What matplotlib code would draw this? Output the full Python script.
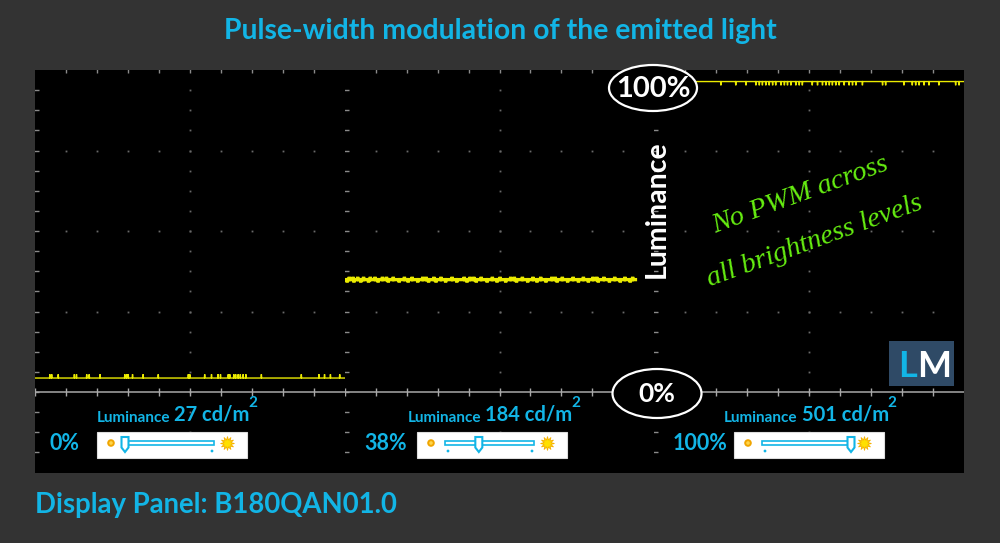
import matplotlib
matplotlib.use("Agg")
import matplotlib.pyplot as plt
from matplotlib.patches import Ellipse, Rectangle, Polygon, Circle

# ---------------- data ----------------
title = "Pulse-width modulation of the emitted light"
panel_label = "Display Panel: B180QAN01.0"
brightness_pct = [0, 38, 100]            # brightness slider setting
luminance_cd = [27, 184, 501]            # measured luminance (cd/m2)
trace_level_pct = [4.5, 36.2, 100.0]     # trace level, % of max luminance
trace_end_div = [10.0, 9.39, 10.0]       # where each trace ends (time divisions)

# small glitches on the traces (time divisions)
spikes_1_up = [0.48, 0.54, 0.75, 1.27, 1.34, 1.67, 1.75, 2.1, 2.9, 2.96, 3.01,
               3.15, 3.49, 3.98, 4.95, 5.0, 5.48, 5.7, 5.91, 5.99, 6.24, 6.29,
               6.42, 6.48, 6.56, 6.63, 6.72, 6.81, 7.31, 8.6, 9.17, 9.35, 9.54, 9.84]
spikes_2_up = [0.15, 0.27, 0.42, 0.61, 0.83, 0.98, 1.22, 1.35, 1.57, 1.93, 2.18,
               2.52, 2.63, 2.88, 3.11, 3.47, 3.86, 4.05, 4.17, 4.41, 4.77, 5.02,
               5.36, 5.48, 5.74, 6.08, 6.33, 6.69, 6.8, 7.03, 7.38, 7.71, 8.02,
               8.14, 8.37, 8.72, 9.05, 9.3]
spikes_2_down = [0.08, 0.3, 0.52, 0.77, 1.08, 1.41, 1.76, 2.05, 2.36, 2.71, 2.95,
                 3.26, 3.62, 3.95, 4.25, 4.6, 4.92, 5.2, 5.55, 5.91, 6.21, 6.5,
                 6.86, 7.2, 7.55, 7.87, 8.19, 8.55, 8.9, 9.22]
spikes_3_down = [2.15, 2.63, 2.96, 3.28, 3.39, 3.49, 3.6, 3.71, 3.82, 3.92, 4.09,
                 4.2, 4.3, 4.41, 4.57, 4.68, 4.78, 5.1, 5.27, 5.43, 5.54, 5.65,
                 5.75, 5.86, 5.97, 6.13, 6.29, 6.4, 6.51, 6.72, 7.37, 7.47, 8.06,
                 8.33, 8.44, 8.55, 8.71, 8.87, 9.19, 9.73, 9.84]

# ---------------- style ----------------
W, H = 1000, 543
BG = "#333333"
CYAN = "#12b5e6"
YELLOW = "#eaea00"
GRIDC = "#8a8a8a"
DOTC = "#6a6a6a"
GREEN = "#66ee11"
SANS = ["Lato", "DejaVu Sans"]

DIV = 25.93          # % per vertical division
YMIN, YMAX = -DIV, 4 * DIV
fig = plt.figure(figsize=(W / 100, H / 100), dpi=100)
fig.patch.set_facecolor(BG)

PX0, PX1, PTOP, PBOT = 35, 964, 70, 472.5
SW = (PX1 - PX0) / 3


def build_trace(level, end, ups, downs, h):
    ev = sorted([(p, h) for p in ups] + [(p, -h) for p in downs])
    xs, ys = [0.0], [level]
    for p, s in ev:
        xs += [p - 0.012, p, p + 0.012]
        ys += [level, level + s, level]
    xs.append(end)
    ys.append(level)
    return xs, ys


spike_sets = [(spikes_1_up, [], 1.2), (spikes_2_up, spikes_2_down, 0.9),
              ([], spikes_3_down, 1.2)]
line_w = [1.0, 2.4, 1.0]

minor = DIV / 4
minor_levels = [m * minor for m in range(-3, 16)]
for i in range(3):
    ax = fig.add_axes([(PX0 + i * SW) / W, 1 - PBOT / H, SW / W, (PBOT - PTOP) / H])
    ax.set_facecolor("black")
    ax.set_xlim(0, 10)
    ax.set_ylim(YMIN, YMAX)
    ax.set_xticks([])
    ax.set_yticks([])
    for s in ax.spines.values():
        s.set_visible(False)
    # dotted grid
    for k in (1, 2, 3):
        ax.plot(range(1, 10), [k * DIV] * 9, ls="none", marker="s", ms=1.3,
                color=DOTC, mew=0)
    ax.plot([5] * len(minor_levels), minor_levels, ls="none", marker="s", ms=1.3,
            color=DOTC, mew=0)
    # left edge ticks
    ax.plot([0] * len(minor_levels), minor_levels, ls="none", marker="_", ms=6,
            color=GRIDC, mew=1)
    # top edge ticks
    ax.plot(range(1, 10), [YMAX] * 9, ls="none", marker="|", ms=5, color=GRIDC, mew=1)
    # zero axis
    ax.axhline(0, color="#a8a8a8", lw=1.1)
    ax.plot(range(0, 10), [0] * 10, ls="none", marker="|", ms=6, color="#a8a8a8", mew=1)
    # trace
    ups, downs, h = spike_sets[i]
    xs, ys = build_trace(trace_level_pct[i], trace_end_div[i], ups, downs, h)
    ax.plot(xs, ys, color=YELLOW, lw=line_w[i], solid_joinstyle="miter")

# ---------------- overlay (annotations) ----------------
ov = fig.add_axes([0, 0, 1, 1])
ov.set_xlim(0, W)
ov.set_ylim(H, 0)
ov.axis("off")
ov.patch.set_alpha(0)

ov.text(500, 31, title, color=CYAN, fontsize=20.4, fontweight="bold",
        ha="center", va="center", family=SANS)
ov.text(35, 505, panel_label, color=CYAN, fontsize=19.8, fontweight="bold",
        ha="left", va="center", family=SANS)

# percentage ellipses
ov.add_patch(Ellipse((653, 88), 88, 46, fc="black", ec="white", lw=1.6, zorder=5))
ov.text(653, 89, "100%", color="white", fontsize=21, fontweight="bold",
        ha="center", va="center", family=SANS, zorder=6)
ov.add_patch(Ellipse((657, 393.5), 89, 49, fc="black", ec="white", lw=1.6, zorder=5))
ov.text(657, 394, "0%", color="white", fontsize=19, fontweight="bold",
        ha="center", va="center", family=SANS, zorder=6)

ov.text(657, 209, "Luminance", color="white", fontsize=20.5, fontweight="bold",
        rotation=90, ha="center", va="center", family=SANS)

# LM logo
ov.add_patch(Rectangle((889, 341), 65, 45, fc="#2f4a66", ec="none"))
ov.text(898, 377, "L", color="#12b5e6", fontsize=26, fontweight="bold",
        ha="left", va="baseline", family=SANS)
ov.text(917, 377, "M", color="white", fontsize=26, fontweight="bold",
        ha="left", va="baseline", family=SANS)

# green note
ov.text(803, 201, "No PWM across", color=GREEN, fontsize=20.5, style="italic",
        family=["Liberation Serif", "DejaVu Serif"], rotation=20,
        rotation_mode="anchor", ha="center", va="baseline")
ov.text(817, 247, "all brightness levels", color=GREEN, fontsize=20.5, style="italic",
        family=["Liberation Serif", "DejaVu Serif"], rotation=20,
        rotation_mode="anchor", ha="center", va="baseline")

# brightness sliders and luminance labels
box_x = [97, 417, 734]
lab_x = [96.7, 407.7, 724]
pct_right = [80, 407, 727]
for i in range(3):
    x0 = box_x[i]
    ov.add_patch(Rectangle((x0, 432), 150, 26, fc="white", ec="#dddddd", lw=0.8))
    ov.add_patch(Circle((x0 + 14, 443), 2.8, fc="#ffd54a", ec="#f0a500", lw=1.4))
    t0, t1 = x0 + 28, x0 + 117
    ov.add_patch(Rectangle((t0, 441.3), t1 - t0, 3.4, fc="white", ec=CYAN, lw=1.2))
    hx = t0 + (t1 - t0) * brightness_pct[i] / 100
    ov.add_patch(Polygon([(hx - 3.5, 437), (hx + 3.5, 437), (hx + 3.5, 447.5),
                          (hx, 452), (hx - 3.5, 447.5)], closed=True,
                         fc="white", ec=CYAN, lw=1.5, zorder=4))
    if brightness_pct[i] > 0:
        ov.add_patch(Circle((t0 + 3, 451), 1.4, fc=CYAN, ec="none"))
    if brightness_pct[i] < 100:
        ov.add_patch(Circle((t1 - 2, 451), 1.4, fc=CYAN, ec="none"))
    ov.plot([x0 + 130], [443], marker=(12, 1, 0), ms=10, color="#ffe000",
            mec="#f5b000", mew=0.6)
    # labels
    ov.text(pct_right[i], 444, f"{brightness_pct[i]}%", color=CYAN, fontsize=15.5,
            fontweight="bold", ha="right", va="center", family=SANS)
    t_a = ov.text(lab_x[i], 421.7, "Luminance", color=CYAN, fontsize=11,
                  fontweight="bold", ha="left", va="baseline", family=SANS)
    t_b = ov.annotate(f"{luminance_cd[i]} cd/m", xy=(1, 0), xycoords=t_a,
                      xytext=(3, 0), textcoords="offset points", color=CYAN,
                      fontsize=14.5, fontweight="bold", ha="left", va="bottom",
                      family=SANS)
    ov.annotate("2", xy=(1, 1), xycoords=t_b, xytext=(-1, 6),
                textcoords="offset points", color=CYAN, fontsize=11,
                fontweight="bold", ha="left", va="top", family=SANS)

fig.savefig("out.png", dpi=100, facecolor=BG)
